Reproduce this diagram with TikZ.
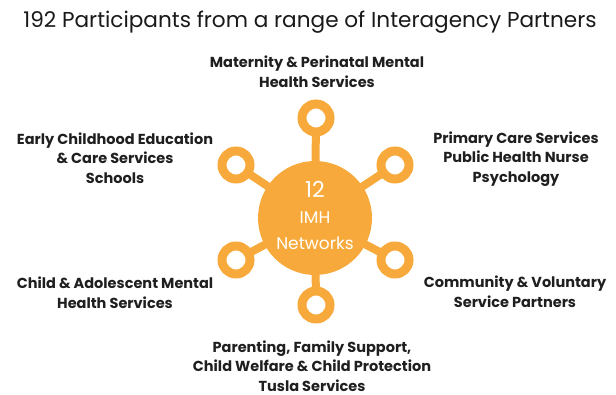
\documentclass[tikz,border=0pt]{standalone}
\usepackage{fontspec}
\setmainfont{Poppins}
\usetikzlibrary{positioning}
\definecolor{hubcol}{RGB}{247,170,59}
\begin{document}
\begin{tikzpicture}[x=1pt,y=-1pt,
  hub/.style={circle, fill=hubcol, minimum size=114pt, inner sep=0pt, text=white, align=center},
  ring/.style={circle, draw=hubcol, line width=9pt, fill=white, minimum size=28pt, inner sep=0pt},
  stem/.style={draw=hubcol, line width=8pt, shorten >=-3pt, shorten <=-3pt},
  partner/.style={font=\bfseries\fontsize{14.5}{19.5}\selectfont, align=center, text=black!88}]
\useasboundingbox (0,0) rectangle (616,395);
\node[font=\fontsize{21.6}{24}\selectfont, text=black!90] (title) at (310,22) {192 Participants from a range of Interagency Partners};
\node[hub, font=\fontsize{17}{26}\selectfont] (hub) at (315,218) {{\fontsize{22}{22}\selectfont 12}\\IMH\\Networks\rule[-6pt]{0pt}{6pt}};
\node[ring] (rT) at (316,118) {};
\node[ring] (rUR) at (395,165) {};
\node[ring] (rLR) at (395,260) {};
\node[ring] (rB) at (316,305) {};
\node[ring] (rLL) at (236,260) {};
\node[ring] (rUL) at (236,165) {};
\draw[stem] (hub) -- (rT);
\draw[stem] (hub) -- (rUR);
\draw[stem] (hub) -- (rLR);
\draw[stem] (hub) -- (rB);
\draw[stem] (hub) -- (rLL);
\draw[stem] (hub) -- (rUL);
\node[partner] (pT) at (317,72) {Maternity \& Perinatal Mental\\Health Services};
\node[partner] (pUR) at (516,159) {Primary Care Services\\Public Health Nurse\\Psychology};
\node[partner] (pLR) at (515,292) {Community \& Voluntary\\Service Partners};
\node[partner] (pB) at (312,366) {Parenting, Family Support,\\Child Welfare \& Child Protection\\Tusla Services};
\node[partner] (pLL) at (115,293) {Child \& Adolescent Mental\\Health Services};
\node[partner] (pUL) at (115,158) {Early Childhood Education\\\& Care Services\\Schools};
\end{tikzpicture}
\end{document}
